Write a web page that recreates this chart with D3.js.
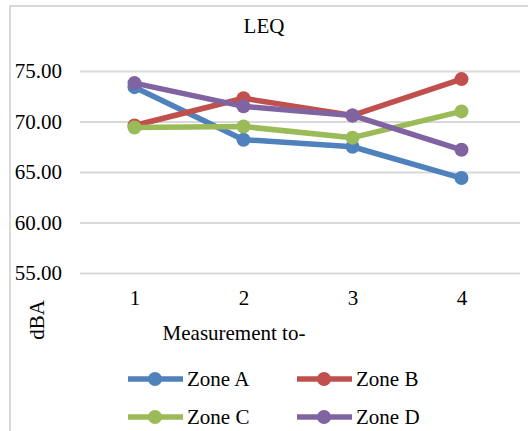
<!DOCTYPE html>
<html>
<head>
<meta charset="utf-8">
<script src="https://cdn.jsdelivr.net/npm/d3@7"></script>
<style>
  body { margin: 0; background: #fff; }
  text { font-family: "Liberation Serif", "Times New Roman", serif; fill: #000; }
</style>
</head>
<body>
<div id="chart"></div>
<script>
var measurements = ["1", "2", "3", "4"];
var zoneNames = ["Zone A", "Zone B", "Zone C", "Zone D"];
var zoneA = [73.4, 68.2, 67.5, 64.4];
var zoneB = [69.6, 72.3, 70.6, 74.2];
var zoneC = [69.4, 69.5, 68.4, 71.0];
var zoneD = [73.8, 71.5, 70.6, 67.2];
var yTicks = [55, 60, 65, 70, 75];
var colors = ["#4f81bd", "#c0504d", "#9bbb59", "#8064a2"];

var series = [zoneA, zoneB, zoneC, zoneD].map((vals, i) => ({ name: zoneNames[i], values: vals, color: colors[i] }));

var W = 528, H = 431;
var fs = "21px";
var svg = d3.select("#chart").append("svg").attr("width", W).attr("height", H);

// outer chart border (only top and left visible)
svg.append("path")
  .attr("d", "M10," + H + "V6H" + W)
  .attr("fill", "none")
  .attr("stroke", "#d9d9d9")
  .attr("stroke-width", 2);

var xScale = d3.scalePoint().domain(measurements).range([80, 516]).padding(0.5);
var yScale = d3.scaleLinear().domain([55, 75]).range([273, 71]);

var yAxis = d3.axisLeft(yScale)
  .tickValues(yTicks)
  .tickFormat(d3.format(".2f"))
  .tickSize(-440)
  .tickPadding(18);
var gy = svg.append("g").attr("transform", "translate(80,0)").call(yAxis);
gy.select(".domain").remove();
gy.selectAll("line").attr("stroke", "#d9d9d9").attr("stroke-width", 2);
gy.selectAll("text").style("font-size", fs).attr("fill", "#000");

var xAxis = d3.axisBottom(xScale).tickSize(0).tickPadding(17);
var gx = svg.append("g").attr("transform", "translate(0,273)").call(xAxis);
gx.select(".domain").remove();
gx.selectAll("text").style("font-size", fs).attr("fill", "#000");

svg.append("text").attr("x", 264).attr("y", 33).attr("text-anchor", "middle")
  .style("font-size", fs).text("LEQ");

svg.append("text").attr("x", 234).attr("y", 340).attr("text-anchor", "middle")
  .style("font-size", fs).text("Measurement to-");

svg.append("text").attr("transform", "translate(44,320) rotate(-90)")
  .attr("text-anchor", "middle").style("font-size", fs).text("dBA");

var line = d3.line().x((d, i) => xScale(measurements[i])).y(d => yScale(d));

series.forEach(s => {
  var g = svg.append("g");
  g.append("path").attr("d", line(s.values)).attr("fill", "none")
    .attr("stroke", s.color).attr("stroke-width", 5.5).attr("stroke-linejoin", "round");
  g.selectAll("circle").data(s.values).enter().append("circle")
    .attr("cx", (d, i) => xScale(measurements[i]))
    .attr("cy", d => yScale(d))
    .attr("r", 7)
    .attr("fill", s.color);
});

// legend
var legendPos = [[128, 379], [297, 379], [128, 417], [297, 417]];
series.forEach((s, i) => {
  var lg = svg.append("g").attr("transform", "translate(" + legendPos[i][0] + "," + legendPos[i][1] + ")");
  lg.append("line").attr("x1", 0).attr("x2", 55).attr("stroke", s.color).attr("stroke-width", 5.5);
  lg.append("circle").attr("cx", 27).attr("r", 7).attr("fill", s.color);
  lg.append("text").attr("x", 59).attr("dy", "0.35em").style("font-size", fs).text(s.name);
});
</script>
</body>
</html>
